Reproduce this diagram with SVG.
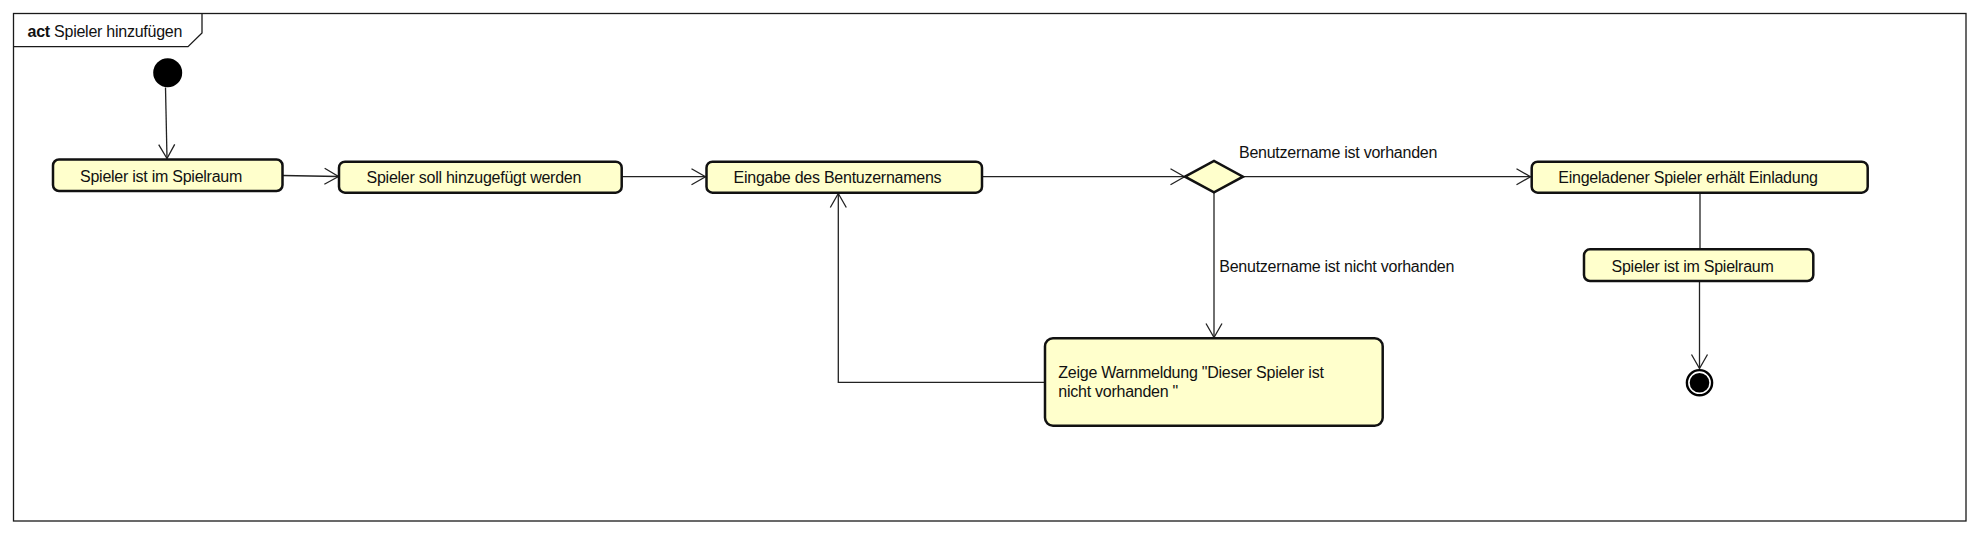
<svg xmlns="http://www.w3.org/2000/svg" width="1980" height="534" viewBox="0 0 1980 534">
  <style>
    .frame { fill: #ffffff; stroke: #1a1a1a; stroke-width: 1.3; }
    .node { fill: #ffffcc; stroke: #111111; stroke-width: 2.5; }
    .txt { font-family: "Liberation Sans", Arial, sans-serif; font-size: 16px; letter-spacing: -0.25px; fill: #111111; }
    .edge { fill: none; stroke: #222222; stroke-width: 1.3; }
  </style>
  <defs>
    <marker id="arrow" markerUnits="userSpaceOnUse" markerWidth="20" markerHeight="20" refX="0" refY="0" orient="auto" overflow="visible">
      <path d="M-14,-8 L0,0 L-14,8" fill="none" stroke="#222222" stroke-width="1.3"/>
    </marker>
  </defs>
  <rect width="1980" height="534" fill="#ffffff"/>

  <g id="frame">
    <rect class="frame" x="13.5" y="13.5" width="1952.5" height="507.5"/>
    <path d="M13.5,46.7 H188 L202,33 V13.5" fill="none" stroke="#1a1a1a" stroke-width="1.3"/>
    <text class="txt" x="27.5" y="36.7"><tspan font-weight="bold">act</tspan> Spieler hinzufügen</text>
  </g>

  <g id="connectors">
    <path class="edge" d="M165.5,87.5 L167,158.5" marker-end="url(#arrow)"/>
    <path class="edge" d="M282.5,175.5 L338.5,176.5" marker-end="url(#arrow)"/>
    <path class="edge" d="M621.7,176.7 L705.5,176.7" marker-end="url(#arrow)"/>
    <path class="edge" d="M982,176.7 L1184.5,176.7" marker-end="url(#arrow)"/>
    <path class="edge" d="M1243,176.7 L1530.5,176.7" marker-end="url(#arrow)"/>
    <path class="edge" d="M1214,192.5 L1214,337.5" marker-end="url(#arrow)"/>
    <path class="edge" d="M1045,382.3 L838.3,382.3 L838.3,193.5" marker-end="url(#arrow)"/>
    <path class="edge" d="M1700,192.7 L1700,249.3"/>
    <path class="edge" d="M1699.5,281 L1699.5,368.5" marker-end="url(#arrow)"/>
    <text class="txt" x="1239" y="158.3">Benutzername ist vorhanden</text>
    <text class="txt" x="1219.3" y="272.3">Benutzername ist nicht vorhanden</text>
  </g>

  <g id="start">
    <circle cx="167.7" cy="72.7" r="14.5" fill="#000000"/>
  </g>

  <g id="n1">
    <rect class="node" x="53" y="159.5" width="229.5" height="31.5" rx="6"/>
    <text class="txt" x="80" y="181.7">Spieler ist im Spielraum</text>
  </g>

  <g id="n2">
    <rect class="node" x="339" y="161.7" width="282.7" height="31" rx="6"/>
    <text class="txt" x="366.5" y="183.3">Spieler soll hinzugefügt werden</text>
  </g>

  <g id="n3">
    <rect class="node" x="706.5" y="161.7" width="275.5" height="31" rx="6"/>
    <text class="txt" x="733.5" y="183.3">Eingabe des Bentuzernamens</text>
  </g>

  <g id="decision">
    <polygon class="node" points="1185,176.7 1214,161 1243,176.7 1214,192.3"/>
  </g>

  <g id="n4">
    <rect class="node" x="1531.7" y="161.7" width="336" height="31" rx="6"/>
    <text class="txt" x="1558.3" y="183.3">Eingeladener Spieler erhält Einladung</text>
  </g>

  <g id="n5">
    <rect class="node" x="1584" y="249.3" width="229.3" height="31.7" rx="6"/>
    <text class="txt" x="1611.5" y="272">Spieler ist im Spielraum</text>
  </g>

  <g id="warn">
    <rect class="node" x="1045" y="338.3" width="337.7" height="87.4" rx="8"/>
    <text class="txt" x="1058.3" y="378.3">Zeige Warnmeldung "Dieser Spieler ist</text>
    <text class="txt" x="1058.3" y="396.7">nicht vorhanden "</text>
  </g>

  <g id="end">
    <circle cx="1699.5" cy="382.7" r="12.6" fill="#ffffff" stroke="#000000" stroke-width="2.4"/>
    <circle cx="1699.5" cy="382.7" r="9.8" fill="#000000"/>
  </g>
</svg>
